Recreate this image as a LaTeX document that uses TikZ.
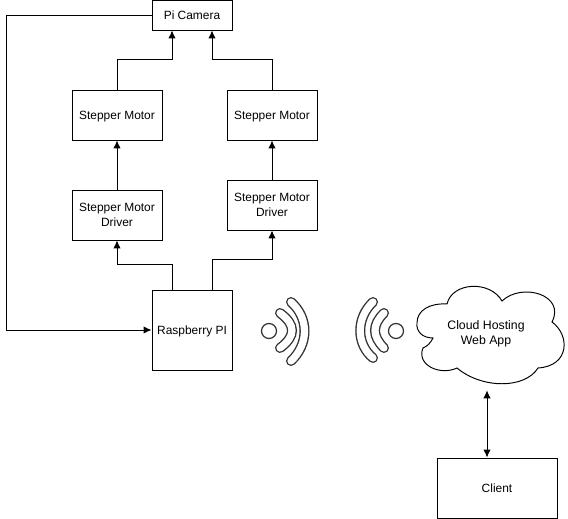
\documentclass[tikz,border=0pt]{standalone}
\usepackage{fontspec}
\setmainfont{Liberation Sans}
\usetikzlibrary{arrows.meta}
\definecolor{cline}{HTML}{000000}
\definecolor{cwave}{HTML}{333333}
\tikzset{
  blk/.style={rectangle, draw=cline, fill=white, align=center, font=\fontsize{6.8}{8.5}\selectfont,
              line width=0.55pt, inner sep=0pt, text depth=0pt},
  fl/.style={-{Latex[length=1.6mm,width=1.5mm]}, draw=cline, line width=0.55pt},
  fld/.style={{Latex[length=1.6mm,width=1.5mm]}-{Latex[length=1.6mm,width=1.5mm]}, draw=cline, line width=0.55pt},
  wave/.style={draw=cwave, line width=0.2cm, line cap=round},
  wavein/.style={draw=white, line width=0.145cm, line cap=round},
  dot/.style={circle, draw=cwave, fill=white, line width=0.7pt, minimum size=0.3cm, inner sep=0pt}
}
\newcommand{\wavearc}[1]{\draw[wave] #1; \draw[wavein] #1;}
\begin{document}
\begin{tikzpicture}[x=0.02cm,y=-0.02cm]
\useasboundingbox (0,0) rectangle (568,519);

\node[blk, minimum width=1.6cm, minimum height=0.6cm] (cam) at (192,15) {Pi Camera};
\node[blk, minimum width=1.8cm, minimum height=1cm] (motl) at (117,115) {Stepper Motor};
\node[blk, minimum width=1.8cm, minimum height=1cm] (motr) at (272,115) {Stepper Motor};
\node[blk, minimum width=1.8cm, minimum height=1cm] (drvl) at (117,215) {Stepper Motor\\Driver};
\node[blk, minimum width=1.8cm, minimum height=1cm] (drvr) at (272,205) {Stepper Motor\\Driver};
\node[blk, minimum width=1.6cm, minimum height=1.6cm] (rpi) at (192,330) {Raspberry PI};
\node[blk, minimum width=2.4cm, minimum height=1.2cm] (client) at (497,488) {Client};

% cloud
\draw[draw=cline, line width=0.55pt] (417,323)
  .. controls (417,310) and (430,303) .. (447,304)
  .. controls (452,282) and (490,280) .. (502,301)
  .. controls (522,282) and (566,295) .. (552,322)
  .. controls (570,335) and (570,366) .. (538,368)
  .. controls (525,389) and (482,389) .. (457,368)
  .. controls (440,376) and (416,365) .. (423,348)
  .. controls (428,346) and (431,342) .. (433,338)
  .. controls (422,338) and (416,331) .. (417,323) -- cycle;
\node[font=\fontsize{7}{8.5}\selectfont, align=center, minimum width=2.8cm, minimum height=2.28cm, inner sep=0pt, text depth=0pt] (cloud) at (486,333) {Cloud Hosting\\Web App};

% wifi
\node[dot] (wl) at (269,331) {};
\node[dot] (wr) at (396,331) {};
\wavearc{(280,313) .. controls (296,325) and (296,336) .. (280,348)}
\wavearc{(291,302) .. controls (309,318) and (309,344) .. (291,361)}
\wavearc{(384,313) .. controls (372,325) and (372,336) .. (384,348)}
\wavearc{(373,302) .. controls (356,318) and (356,344) .. (373,358)}

\draw[fl] (motl.north) -- ++(0,-30) -| ([xshift=-0.4cm]cam.south);
\draw[fl] (motr.north) -- ++(0,-30) -| ([xshift=0.4cm]cam.south);
\draw[fl] (drvl.north) -- (motl.south);
\draw[fl] (drvr.north) -- (motr.south);
\draw[fl] ([xshift=-0.4cm]rpi.north) -- ++(0,-25) -| (drvl.south);
\draw[fl] ([xshift=0.4cm]rpi.north) -- ++(0,-30) -| (drvr.south);
\draw[fl] (cam.west) -- ++(-145,0) |- (rpi.west);
\draw[fld] ([xshift=0.02cm]cloud.south) -- ([xshift=0.02cm]cloud.south |- client.north);

\end{tikzpicture}
\end{document}
